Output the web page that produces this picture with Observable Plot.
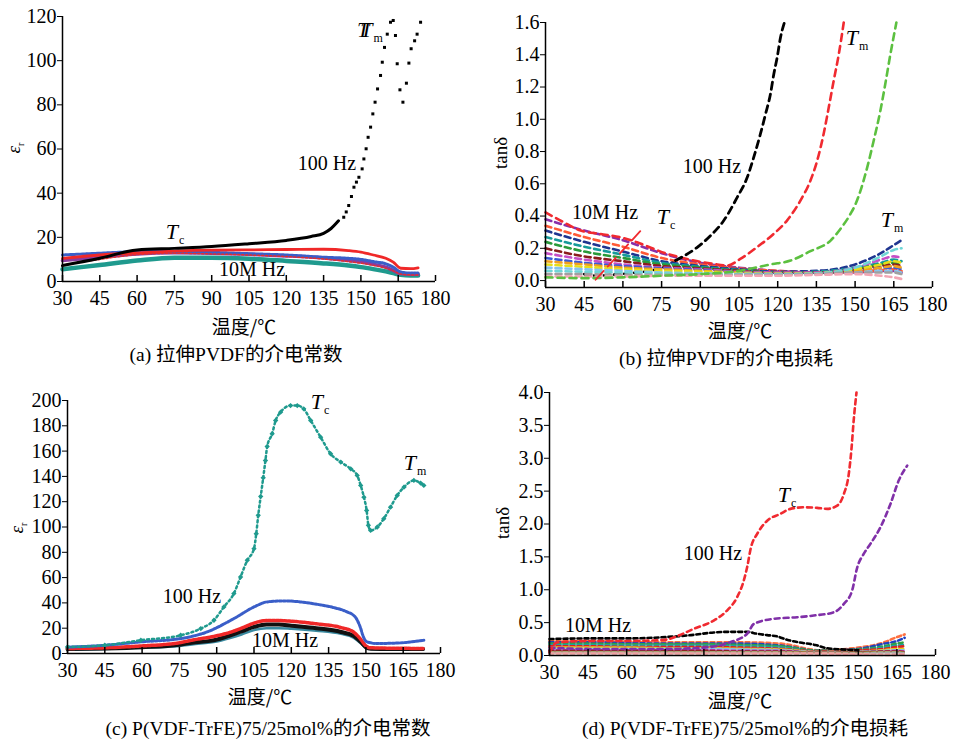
<!DOCTYPE html>
<html><head><meta charset="utf-8">
<script src="https://cdn.jsdelivr.net/npm/d3@7"></script>
<script src="https://cdn.jsdelivr.net/npm/@observablehq/plot@0.6"></script>
<style>
body{margin:0;background:#fff;width:960px;height:743px;position:relative;overflow:hidden;font-family:"Liberation Serif","Noto Sans CJK SC",serif;color:#000;}
.panel{position:absolute;}
.lbl{position:absolute;font-size:20px;white-space:nowrap;line-height:1;transform:translate(-50%,-50%);}
.t{font-size:22px;}
.t i{font-style:italic;}
.t span{font-size:12px;position:relative;top:5px;margin-left:1px;}
.yl{position:absolute;font-size:19px;white-space:nowrap;line-height:1;transform:translate(-50%,-50%) rotate(-90deg);}
.yl span{font-size:10px;position:relative;top:4px;}
.xl{position:absolute;font-size:19px;white-space:nowrap;line-height:1;transform:translate(-50%,-50%);font-family:"Noto Sans CJK SC",sans-serif;}
.cap{position:absolute;font-size:19.5px;white-space:nowrap;line-height:1;transform:translate(-50%,-50%);}
.cap .z{font-family:"Noto Sans CJK SC",sans-serif;}
</style></head>
<body>
<div id="pa" class="panel" style="left:0;top:0"></div>
<div id="pb" class="panel" style="left:480px;top:0"></div>
<div id="pc" class="panel" style="left:0;top:380px"></div>
<div id="pd" class="panel" style="left:480px;top:380px"></div>

<!-- panel a labels -->
<div class="lbl t" style="left:370px;top:30px"><i style="letter-spacing:-9px">T</i><i>T</i><span>m</span></div>
<div class="lbl t" style="left:175px;top:232px"><i>T</i><span>c</span></div>
<div class="lbl" style="left:327px;top:163px">100 Hz</div>
<div class="lbl" style="left:252px;top:269px">10M Hz</div>
<div class="yl" style="left:13px;top:148px"><i>ε</i><span>r</span></div>
<div class="xl" style="left:244px;top:325px">温度/℃</div>
<div class="cap" style="left:236px;top:354px">(a) <span class="z">拉伸</span>PVDF<span class="z">的介电常数</span></div>

<!-- panel b labels -->
<div class="lbl t" style="left:857px;top:38px"><i>T</i><span>m</span></div>
<div class="lbl t" style="left:892px;top:220px"><i>T</i><span>m</span></div>
<div class="lbl t" style="left:666px;top:217px"><i>T</i><span>c</span></div>
<div class="lbl" style="left:712px;top:166px">100 Hz</div>
<div class="lbl" style="left:605px;top:212px">10M Hz</div>
<div class="yl" style="left:500px;top:153px">tanδ</div>
<div class="xl" style="left:740px;top:329px">温度/℃</div>
<div class="cap" style="left:726px;top:358px">(b) <span class="z">拉伸</span>PVDF<span class="z">的介电损耗</span></div>

<!-- panel c labels -->
<div class="lbl t" style="left:320px;top:402px"><i>T</i><span>c</span></div>
<div class="lbl t" style="left:415px;top:463px"><i>T</i><span>m</span></div>
<div class="lbl" style="left:192px;top:596px">100 Hz</div>
<div class="lbl" style="left:285px;top:640px">10M Hz</div>
<div class="yl" style="left:16px;top:528px"><i>ε</i><span>r</span></div>
<div class="xl" style="left:260px;top:695px">温度/℃</div>
<div class="cap" style="left:268px;top:728px">(c) P(VDF-TrFE)75/25mol%<span class="z">的介电常数</span></div>

<!-- panel d labels -->
<div class="lbl t" style="left:787px;top:495px"><i>T</i><span>c</span></div>
<div class="lbl" style="left:713px;top:553px">100 Hz</div>
<div class="lbl" style="left:598px;top:625px">10M Hz</div>
<div class="yl" style="left:502px;top:523px">tanδ</div>
<div class="xl" style="left:740px;top:699px">温度/℃</div>
<div class="cap" style="left:745px;top:728px">(d) P(VDF-TrFE)75/25mol%<span class="z">的介电损耗</span></div>

<script>
// ---------- shared ticks ----------
const xTickValues = [30,45,60,75,90,105,120,135,150,165,180];
const yTicksA = [0,20,40,60,80,100,120];
const yTicksB = [0,0.2,0.4,0.6,0.8,1.0,1.2,1.4,1.6];
const yTicksC = [0,20,40,60,80,100,120,140,160,180,200];
const yTicksD = [0,0.5,1.0,1.5,2.0,2.5,3.0,3.5,4.0];

// ---------- (a) stretched PVDF permittivity ----------
const tA = [30,45,60,75,90,105,120,135,145,150,155,160,163,166,170,173];
const epsA_red    = [10.5,12,13,13.8,14.2,14.3,14.5,14.6,14,13.3,12,10.5,8.8,6,5.8,6.2];
const epsA_blue   = [12,12.8,13.5,13.6,13.2,12.6,12,11,10.5,10,9,8,6.5,4.3,3.8,3.8];
const epsA_purple = [9.5,11,12.5,13,12.8,12.3,11.6,10.6,9.5,8.8,7.8,6.5,5,3.6,3.3,3.3];
const epsA_red2   = [7.5,10,12.2,12.8,12.5,12,11.3,10.2,9,8.3,7.3,6,4.8,3.4,3,3];
const epsA_teal   = [5.5,7.5,9.5,10.8,10.8,10.3,9.3,8.2,7.2,6.5,5.6,4.6,3.8,3,2.7,2.7];
const tA_blackLo  = [30,45,60,75,90,105,120,130,135,138,141];
const epsA_blackLo= [7.2,10.5,14.3,15,15.8,17.1,18.6,20.4,21.8,24,27.5];
const tA_blackHi  = [143.1,144.1,145.1,146.2,147.2,148.2,149.2,150.5,151.2,152.1,152.9,153.9,154.8,155.7,156.7,157.9,158.6,159.5,160.6,161.9,163,163.9,164.6,165.7,166.9,168.3,169.3,170.2,171.6,172.6,174];
const epsA_blackHi= [29.1,31.5,34.4,38.5,42.7,45,47.2,51,55.5,60.1,65.3,69.9,75.9,81.2,87.2,93.3,99.3,106,112,117.4,118.2,111.4,98.6,86.8,81.2,89.8,98.9,105.4,109,112,117.4];

// ---------- (b) stretched PVDF loss ----------
const tB_blackLo = [45,50,55,62,70,76,80.4];
const lossB_blackLo = [0.04,0.03,0.035,0.045,0.06,0.085,0.124];
const tB_black = [80.4,88.8,94,99.1,104.3,108.2,110.7,113.3,115.3,117.2,118.5,119.8,121.1,122.6];
const lossB_black = [0.124,0.206,0.279,0.372,0.516,0.64,0.764,0.909,1.033,1.157,1.281,1.384,1.508,1.6];
const tB_red = [30,37.1,43.6,51.3,59.1,65.5,72,77.2,82.3,87.5,95.2,100.4,105.5,111.9,118.4,123.6,128.8,132.7,135.3,137.8,139.8,141.7,143.7,145.6];
const lossB_red = [0.423,0.361,0.31,0.289,0.268,0.237,0.196,0.165,0.144,0.124,0.103,0.093,0.134,0.206,0.289,0.372,0.496,0.62,0.743,0.909,1.074,1.239,1.405,1.6];
const tB_green = [30,45,60,75,90,105,117.2,125,132.7,140.5,144.3,148.2,150.2,152.1,154.7,157.2,159.8,161.7,163.7,166];
const lossB_green = [0.02,0.015,0.02,0.03,0.04,0.06,0.1,0.124,0.182,0.248,0.32,0.413,0.475,0.558,0.702,0.867,1.053,1.219,1.405,1.6];
const tB_pointer = [49.4,68.1];
const lossB_pointer = [0.005,0.33];
const tB = [30,45,60,75,90,105,120,135,150,160,165,168];
const bClusterColors = ["#8a2fa8","#ff5a36","#1f3590","#169a9a","#2a9a3a","#8b1c1c","#c64fc6","#3a5ad6","#f0a020","#e6de1a","#86c4f0","#6fd6d6","#a0a0a0","#f2a6b4"];
const bClusterLoss = [
  [0.38,0.31,0.25,0.17,0.11,0.08,0.06,0.05,0.05,0.06,0.06,0.05],
  [0.34,0.27,0.21,0.14,0.10,0.075,0.06,0.05,0.055,0.065,0.07,0.06],
  [0.31,0.24,0.18,0.12,0.09,0.07,0.055,0.06,0.10,0.17,0.22,0.25],
  [0.27,0.21,0.16,0.11,0.085,0.065,0.05,0.055,0.08,0.11,0.13,0.12],
  [0.24,0.18,0.14,0.10,0.08,0.06,0.05,0.05,0.07,0.10,0.11,0.10],
  [0.20,0.15,0.12,0.09,0.075,0.06,0.05,0.05,0.065,0.09,0.10,0.09],
  [0.17,0.13,0.10,0.08,0.07,0.055,0.05,0.05,0.08,0.13,0.15,0.14],
  [0.14,0.11,0.09,0.075,0.065,0.05,0.045,0.045,0.06,0.08,0.08,0.07],
  [0.12,0.10,0.08,0.07,0.06,0.05,0.045,0.045,0.06,0.08,0.09,0.08],
  [0.10,0.085,0.07,0.06,0.055,0.045,0.04,0.045,0.07,0.10,0.12,0.11],
  [0.08,0.07,0.06,0.05,0.045,0.04,0.04,0.04,0.05,0.06,0.06,0.05],
  [0.06,0.055,0.05,0.045,0.04,0.04,0.04,0.045,0.08,0.15,0.19,0.20],
  [0.04,0.04,0.035,0.035,0.035,0.035,0.035,0.04,0.05,0.05,0.05,0.04],
  [0.025,0.025,0.025,0.03,0.03,0.03,0.03,0.035,0.04,0.03,0.02,0.01]
];

// ---------- (c) P(VDF-TrFE) permittivity ----------
const tC_teal = [30,45,59.5,75.5,83.6,88.9,92.9,96.9,99.6,102.3,105,105.9,106.7,107.7,108.7,109.6,110.3,112.3,113.7,115.7,119.7,122.4,125,127.8,131.8,135.8,139.9,143.9,146.5,147.9,149.2,150.3,151,151.9,154.6,157.2,159.9,162.6,165.3,169.3,172,173.3];
const epsC_teal = [5.2,6.5,10.5,14.4,19.7,26.3,36.8,47.4,60.5,73.7,82.9,94.7,109.2,124.2,138.9,152.6,163.7,173.7,184.2,190.8,196,196,193.4,184.2,171,157.9,151.3,146,140.8,132.9,123.6,113.1,101.3,97.3,100,106.6,115.7,125,131.5,136.8,134.7,132.9];
const tC_blue = [30,45,59.5,75.5,86.2,96.9,105,110.3,117,123.6,130.3,137,142.4,145.7,147.7,149,150.4,154.4,163.8,173.3];
const epsC_blue = [5,6.5,9.2,11.8,17.1,27.6,36.8,40.8,41.6,40.8,38.9,36.3,32.9,28.9,21,13.1,9.2,7.9,8.4,10.5];
const tC = [30,45,60,75,80,90,95,100,105,110,115,120,130,140,145,148,150,152,160,173];
const epsC_red   = [4,4.5,6,8.5,10.5,14,16.5,20,24,26,26,25.5,23.5,20.5,17,11,6,4.5,4.2,4];
const epsC_black = [3.5,4,5,7,8.5,11,14,17.5,21,23,23,22,20,17,14,9,5,3.8,3.5,3.5];
const epsC_grey  = [3,3.5,4.5,6,7.2,9.5,12,15,18.5,20,20,19.5,18,15.5,12.5,8,4.5,3.5,3.2,3];

// ---------- (d) P(VDF-TrFE) loss ----------
const tD_red = [30,33,45,60,75,80,86,93.8,99,102.9,105.5,106.8,108.3,110.7,114.6,119.7,123.6,128.8,134,137.9,141.8,144.4,146.3,147.4,148.2,149.3];
const lossD_red = [0.05,0.2,0.22,0.22,0.24,0.3,0.405,0.532,0.684,0.886,1.14,1.342,1.646,1.85,2.05,2.153,2.23,2.254,2.245,2.23,2.28,2.457,2.761,3.166,3.571,4.0];
const tD_purple = [30,45,60,75,90,100,106.8,109.4,117.1,126.2,132.7,140.5,144.4,147.6,149.6,152.1,154.7,158.6,162.5,165.7,169];
const lossD_purple = [0.12,0.1,0.1,0.1,0.12,0.2,0.33,0.48,0.558,0.582,0.608,0.658,0.785,0.988,1.342,1.545,1.697,1.95,2.305,2.66,2.888];
const tD_black = [30,45,60,75,85,93.8,100,106.8,110.7,114.6,118.5,122.3,126.9,133.3,138,145,150];
const lossD_black = [0.25,0.26,0.26,0.28,0.31,0.35,0.36,0.36,0.33,0.31,0.29,0.24,0.2,0.16,0.11,0.09,0.08];
const tD = [30,45,60,75,90,105,120,135,150,160,165,168];
const dClusterColors = ["#ff7040","#2040c0","#30a040","#20a0a0","#e02020","#e0d020","#80c0f0","#c040c0","#902020","#a0a040","#aaaaaa","#f0a0a0"];
const dClusterLoss = [
  [0.22,0.22,0.21,0.2,0.2,0.2,0.18,0.08,0.12,0.2,0.28,0.32],
  [0.2,0.2,0.19,0.18,0.18,0.18,0.15,0.07,0.1,0.18,0.22,0.27],
  [0.18,0.18,0.17,0.17,0.17,0.16,0.14,0.07,0.09,0.14,0.18,0.2],
  [0.16,0.16,0.15,0.15,0.15,0.14,0.12,0.06,0.08,0.12,0.15,0.16],
  [0.14,0.14,0.13,0.13,0.13,0.12,0.1,0.06,0.08,0.1,0.13,0.14],
  [0.12,0.12,0.12,0.11,0.11,0.1,0.09,0.05,0.06,0.08,0.1,0.1],
  [0.1,0.1,0.1,0.1,0.1,0.09,0.08,0.05,0.06,0.07,0.08,0.08],
  [0.08,0.08,0.08,0.08,0.08,0.07,0.07,0.04,0.05,0.06,0.07,0.06],
  [0.07,0.07,0.07,0.07,0.07,0.06,0.06,0.04,0.05,0.06,0.06,0.05],
  [0.05,0.05,0.05,0.05,0.05,0.05,0.05,0.04,0.04,0.05,0.05,0.04],
  [0.04,0.04,0.04,0.04,0.04,0.04,0.04,0.03,0.03,0.04,0.04,0.03],
  [0.03,0.03,0.03,0.03,0.03,0.03,0.03,0.03,0.02,0.01,0.01,0.02]
];

// ---------- helpers ----------
const pts = (t, v) => t.map((x, i) => ({x, y: v[i]}));
function makePanel(o) {
  const ph = o.height - o.mt - o.mb;
  return Plot.plot({
    width: o.width, height: o.height,
    marginLeft: o.ml, marginRight: o.mr, marginTop: o.mt, marginBottom: o.mb,
    x: {domain: [30, 180]}, y: {domain: o.yDomain},
    style: "font-family: 'Liberation Serif', 'Times New Roman', serif; font-size: 20px; color: #000; background: transparent; overflow: visible;",
    marks: [
      ...o.marks,
      Plot.ruleX([30], {stroke: "#000", strokeWidth: 1.5}),
      Plot.ruleY([o.yDomain[0]], {stroke: "#000", strokeWidth: 1.5}),
      Plot.tickX(xTickValues, {x: d => d, insetTop: ph - 6, stroke: "#000", strokeWidth: 1.5}),
      Plot.axisX({ticks: xTickValues, tickSize: 0, tickPadding: 9, tickFormat: d => String(d), label: null, fontVariant: "normal"}),
      Plot.axisY({ticks: o.yTicks, tickSize: 5, tickPadding: 1, tickFormat: o.yFormat, label: null, fontVariant: "normal"})
    ]
  });
}
const L = (t, v, opts) => Plot.line(pts(t, v), {x: "x", y: "y", curve: "monotone-x", ...opts});

// (a)
document.getElementById("pa").append(makePanel({
  width: 460, height: 320, ml: 62, mr: 25, mt: 16, mb: 39,
  yDomain: [0, 120], yTicks: yTicksA, yFormat: d => String(d),
  marks: [
    L(tA, epsA_teal, {stroke: "#1f9a8e", strokeWidth: 4.5}),
    L(tA, epsA_purple, {stroke: "#8a3a9e", strokeWidth: 3.5}),
    L(tA, epsA_blue, {stroke: "#3a5ec8", strokeWidth: 3, strokeDasharray: "2,1"}),
    L(tA, epsA_red2, {stroke: "#e03030", strokeWidth: 1.5, strokeDasharray: "2,2"}),
    L(tA, epsA_red, {stroke: "#f02828", strokeWidth: 2.8}),
    L(tA_blackLo, epsA_blackLo, {stroke: "#000", strokeWidth: 3}),
    Plot.dot(pts(tA_blackHi, epsA_blackHi), {x: "x", y: "y", symbol: "square", r: 1.7, fill: "#000"})
  ]
}));

// (b)
const bMarks = bClusterLoss.map((v, i) => L(tB, v, {stroke: bClusterColors[i], strokeWidth: 2.6, strokeDasharray: "6,4"}));
document.getElementById("pb").append(makePanel({
  width: 480, height: 320, ml: 65, mr: 28, mt: 22, mb: 33,
  yDomain: [-0.043, 1.6], yTicks: yTicksB, yFormat: d3.format(".1f"),
  marks: [
    L(tB_blackLo, lossB_blackLo, {stroke: "#000", strokeWidth: 2.6, strokeDasharray: "6,4"}),
    ...bMarks,
    L(tB_green, lossB_green, {stroke: "#5cc040", strokeWidth: 2.6, strokeDasharray: "7,5"}),
    L(tB_red, lossB_red, {stroke: "#f02a30", strokeWidth: 2.6, strokeDasharray: "7,5"}),
    L(tB_black, lossB_black, {stroke: "#000", strokeWidth: 2.8, strokeDasharray: "7,5"}),
    L(tB_pointer, lossB_pointer, {stroke: "#f02a30", strokeWidth: 1.8, strokeDasharray: "12,6", curve: "linear"})
  ]
}));

// (c)
document.getElementById("pc").append(makePanel({
  width: 460, height: 320, ml: 67, mr: 20, mt: 20, mb: 47,
  yDomain: [0, 200], yTicks: yTicksC, yFormat: d => String(d),
  marks: [
    L(tC, epsC_grey, {stroke: "#3a8aa0", strokeWidth: 2.5}),
    L(tC, epsC_black, {stroke: "#111", strokeWidth: 4}),
    L(tC, epsC_red, {stroke: "#f02828", strokeWidth: 3.5, strokeDasharray: "3,1"}),
    L(tC_blue, epsC_blue, {stroke: "#3a5ec8", strokeWidth: 3, strokeDasharray: "2.5,1.5"}),
    L(tC_teal, epsC_teal, {stroke: "#1f9a8e", strokeWidth: 2.5, strokeDasharray: "2,3"}),
    Plot.dot(pts(tC_teal, epsC_teal), {x: "x", y: "y", symbol: "diamond2", r: 2.4, fill: "#1f9a8e"})
  ]
}));

// (d)
const dMarks = dClusterLoss.map((v, i) => L(tD, v, {stroke: dClusterColors[i], strokeWidth: 2.6, strokeDasharray: "4,3"}));
document.getElementById("pd").append(makePanel({
  width: 480, height: 320, ml: 69, mr: 25, mt: 12, mb: 45,
  yDomain: [0, 4], yTicks: yTicksD, yFormat: d3.format(".1f"),
  marks: [
    ...dMarks,
    L(tD_black, lossD_black, {stroke: "#000", strokeWidth: 2.6, strokeDasharray: "4,3"}),
    L(tD_purple, lossD_purple, {stroke: "#8030a8", strokeWidth: 2.6, strokeDasharray: "5,4"}),
    L(tD_red, lossD_red, {stroke: "#f02a30", strokeWidth: 2.6, strokeDasharray: "5,4"})
  ]
}));
</script>
</body></html>
